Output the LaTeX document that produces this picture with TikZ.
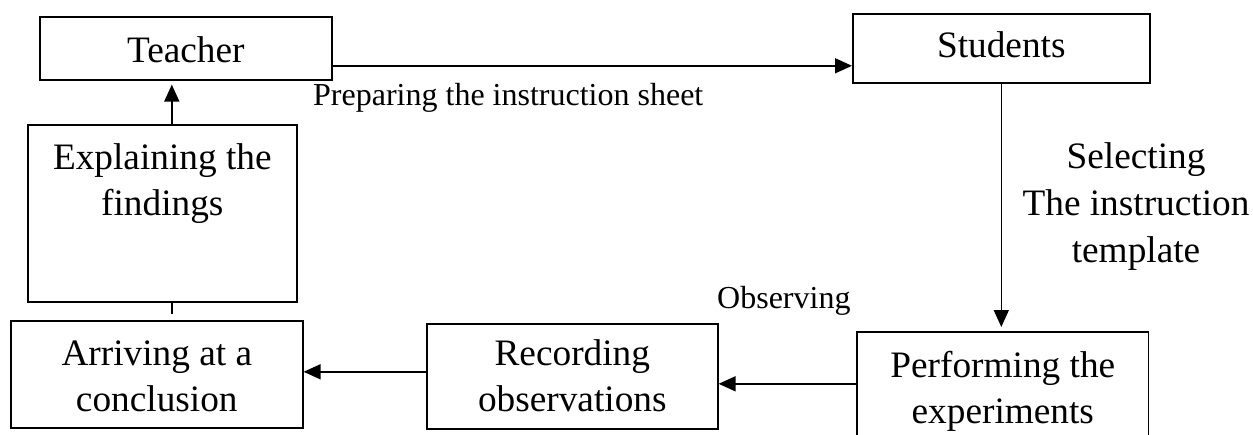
\documentclass[tikz,border=0pt]{standalone}
\usepackage{fontspec}
\setmainfont{Liberation Serif}
\usetikzlibrary{arrows.meta}
\begin{document}
\begin{tikzpicture}[x=1pt,y=-1pt,
  box/.style={draw, line width=1.6pt, inner sep=0pt, anchor=north west, align=flush center,
              font=\fontsize{37.3}{46}\selectfont},
  arr/.style={line width=1.6pt, -{Triangle[length=17pt,width=15pt]}},
  conn/.style={line width=1.6pt},
  small/.style={font=\fontsize{32}{38}\selectfont, inner sep=0pt},
  biglabel/.style={font=\fontsize{37.3}{47}\selectfont, inner sep=0pt, align=flush center}]
\useasboundingbox (0,0) rectangle (1253,434);

\node[box, text width=292pt, text height=46pt, text depth=17pt] (teacher) at (39,16) {Teacher};
\node[box, text width=297pt, text height=44pt, text depth=25pt] (students) at (852,13) {Students};
\node[box, text width=269pt, text height=45pt, text depth=132pt] (expl) at (27,124) {Explaining the\\findings};
\node[box, text width=292pt, text height=45pt, text depth=62pt] (arrive) at (10,320) {Arriving at a\\conclusion};
\node[box, text width=291pt, text height=42pt, text depth=63pt] (rec) at (426,323) {Recording\\observations};
\node[box, draw=none, text width=290pt, text height=45pt, text depth=62pt] (perf) at (857,332) {Performing the\\experiments};
\draw[conn] (perf.south west) -- (perf.north west) -- (perf.north east) -- (perf.south east);

\node[small, anchor=base west] (prep) at (313,105) {Preparing the instruction sheet};
\node[small, anchor=base west] (obs) at (717,308) {Observing};
\node[biglabel, anchor=north, text width=240pt, text height=29pt] (sel) at (1136,139) {Selecting\\The instruction\\template};

\draw[arr] ([yshift=-17.5pt]teacher.east) -- ([yshift=-17.5pt]teacher.east -| students.west);
\draw[arr, shorten >=5pt] (students.south) -- (students.south |- perf.north);
\draw[arr] ([yshift=2.5pt]perf.west) -- ([yshift=2.5pt]perf.west -| rec.east);
\draw[arr] ([yshift=4.5pt]rec.west) -- ([yshift=4.5pt]rec.west -| arrive.east);
\draw[conn, shorten >=6pt] ([xshift=9.5pt]expl.south) -- ([xshift=9.5pt]expl.south |- arrive.north);
\draw[arr, shorten >=4pt] ([xshift=9.5pt]expl.north) -- ([xshift=9.5pt]expl.north |- teacher.south);
\end{tikzpicture}
\end{document}
